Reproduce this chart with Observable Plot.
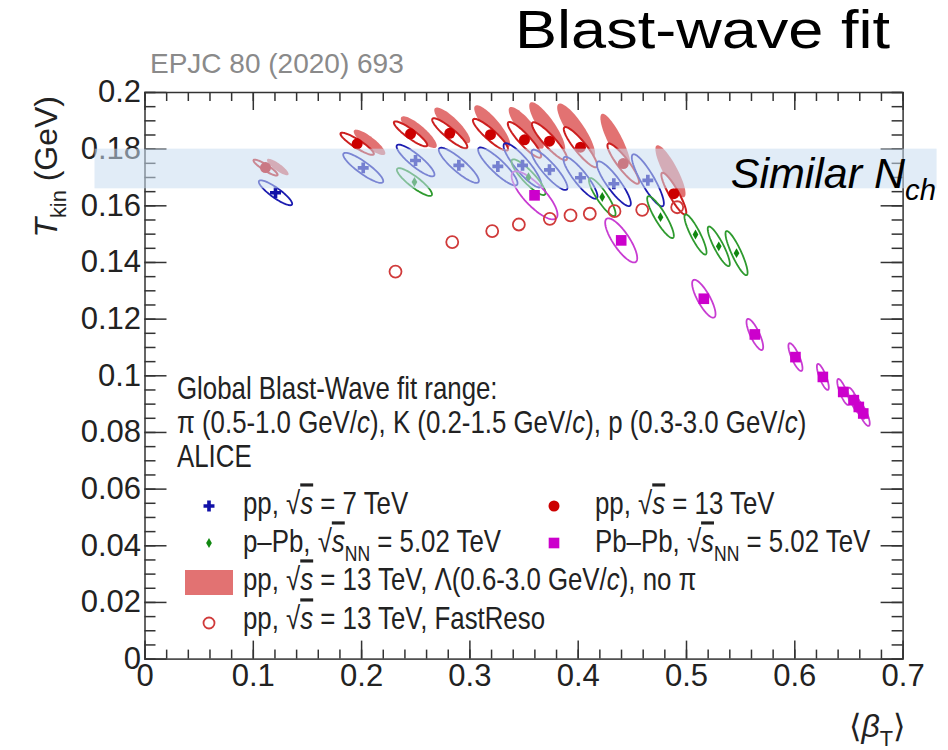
<!DOCTYPE html>
<html><head><meta charset="utf-8">
<script src="https://cdn.jsdelivr.net/npm/d3@7"></script>
<script src="https://cdn.jsdelivr.net/npm/@observablehq/plot@0.6"></script>
<style>body{margin:0;background:#fff;} #chart{width:948px;height:750px;}</style>
</head><body><div id="chart"></div>
<script>
// ---------------- data ----------------
// pp, sqrt(s) = 7 TeV
const pp7Beta = [0.1205, 0.2015, 0.2498, 0.2898, 0.3258, 0.3486, 0.3735, 0.4021, 0.4329, 0.4643];
const pp7T    = [0.1646, 0.1734, 0.1760, 0.1743, 0.1739, 0.1743, 0.1727, 0.1699, 0.1678, 0.1690];
const pp7SB   = [0.0154, 0.0185, 0.0175, 0.0185, 0.0182, 0.0175, 0.0166, 0.0157, 0.0157, 0.0148];
const pp7ST   = [0.0044, 0.0053, 0.0056, 0.0062, 0.0067, 0.0078, 0.0071, 0.0074, 0.0079, 0.0092];
// pp, sqrt(s) = 13 TeV
const pp13Beta = [0.1113, 0.1959, 0.2452, 0.2814, 0.3190, 0.3504, 0.3735, 0.4021, 0.4416, 0.4883];
const pp13T    = [0.1735, 0.1819, 0.1854, 0.1856, 0.1851, 0.1833, 0.1828, 0.1807, 0.1749, 0.1643];
const pp13SB   = [0.0111, 0.0154, 0.0154, 0.0162, 0.0162, 0.0154, 0.0162, 0.0154, 0.0146, 0.0115];
const pp13ST   = [0.0028, 0.0039, 0.0044, 0.0053, 0.0056, 0.0063, 0.0067, 0.0071, 0.0071, 0.0074];
// pp 13 TeV, Lambda (0.6-3.0 GeV/c), no pi
const lamBeta = [0.1226, 0.2073, 0.2528, 0.2837, 0.3206, 0.3520, 0.3714, 0.3981, 0.4344, 0.4852];
const lamT    = [0.1737, 0.1824, 0.1860, 0.1884, 0.1881, 0.1875, 0.1878, 0.1866, 0.1828, 0.1722];
const lamSB   = [0.0100, 0.0146, 0.0166, 0.0166, 0.0166, 0.0162, 0.0166, 0.0175, 0.0139, 0.0139];
const lamST   = [0.0029, 0.0045, 0.0056, 0.0063, 0.0074, 0.0074, 0.0088, 0.0095, 0.0097, 0.0092];
// p-Pb, sqrt(sNN) = 5.02 TeV
const pPbBeta = [0.2488, 0.3541, 0.4222, 0.4760, 0.5083, 0.5298, 0.5462];
const pPbT    = [0.1684, 0.1701, 0.1631, 0.1560, 0.1499, 0.1457, 0.1433];
const pPbSB   = [0.0162, 0.0157, 0.0123, 0.0123, 0.0102, 0.0102, 0.0102];
const pPbST   = [0.0049, 0.0063, 0.0067, 0.0074, 0.0071, 0.0070, 0.0078];
// Pb-Pb, sqrt(sNN) = 5.02 TeV
const PbPbBeta = [0.3597, 0.4397, 0.5160, 0.5631, 0.6006, 0.6259, 0.6447, 0.6545, 0.6591, 0.6632];
const PbPbT    = [0.1637, 0.1478, 0.1272, 0.1146, 0.1066, 0.0996, 0.0943, 0.0914, 0.0890, 0.0867];
const PbPbSB   = [0.0212, 0.0148, 0.0108, 0.0077, 0.0065, 0.0055, 0.0055, 0.0055, 0.0055, 0.0060];
const PbPbST   = [0.0085, 0.0078, 0.0067, 0.0055, 0.0049, 0.0046, 0.0046, 0.0044, 0.0042, 0.0044];
// pp 13 TeV, FastReso
const frBeta = [0.2313, 0.2837, 0.3206, 0.3452, 0.3738, 0.3929, 0.4107, 0.4335, 0.4591, 0.4914];
const frT    = [0.1368, 0.1472, 0.1511, 0.1534, 0.1554, 0.1566, 0.1572, 0.1581, 0.1586, 0.1595];
// "Similar Nch" band
const bandT = [0.166, 0.18];
// axis ticks
const xMajor = [0, 0.1, 0.2, 0.3, 0.4, 0.5, 0.6, 0.7];
const xMinor = d3.range(0, 36).map(i => i * 0.02).filter(v => v <= 0.7001);
const yMajor = [0, 0.02, 0.04, 0.06, 0.08, 0.1, 0.12, 0.14, 0.16, 0.18, 0.2];
const yMinor = d3.range(0, 41).map(i => i * 0.005);

// ---------------- helpers ----------------
function ellipses(beta, T, sb, st, rho, n = 72) {
  const out = [];
  beta.forEach((b, i) => {
    for (let k = 0; k <= n; k++) {
      const t = 2 * Math.PI * k / n;
      out.push({id: i, x: b + sb[i] * Math.cos(t),
        y: T[i] + st[i] * (rho * Math.cos(t) + Math.sqrt(1 - rho * rho) * Math.sin(t))});
    }
  });
  return out;
}
const pts = (beta, T) => beta.map((b, i) => ({x: b, y: T[i]}));
const fmt = d => String(+d.toFixed(3));

const W = 948, H = 750, ML = 144.5, MR = 45.4, MT = 92, MB = 91.4;
const FW = W - ML - MR, FH = H - MT - MB;
const SANS = "'Liberation Sans', Arial, Helvetica, sans-serif";
const AX = "#333";
const cRed = "#cc1f1f", cBlue = "#1c1cb0", cGreen = "#2e9a2e", cMag = "#c83cd2";

const plot = Plot.plot({
  width: W, height: H,
  marginLeft: ML, marginRight: MR, marginTop: MT, marginBottom: MB,
  x: {domain: [0, 0.7], axis: null},
  y: {domain: [0, 0.2], axis: null},
  style: {background: "white", overflow: "visible", fontFamily: SANS},
  marks: [
    Plot.line(ellipses(lamBeta, lamT, lamSB, lamST, -0.85), {x: "x", y: "y", z: "id", fill: "#e27272", stroke: "none", curve: "linear-closed"}),
    Plot.line(ellipses(pp13Beta, pp13T, pp13SB, pp13ST, -0.9), {x: "x", y: "y", z: "id", fill: "white", stroke: cRed, strokeWidth: 2, curve: "linear-closed"}),
    Plot.line(ellipses(pp7Beta, pp7T, pp7SB, pp7ST, -0.88), {x: "x", y: "y", z: "id", stroke: cBlue, strokeWidth: 1.8, curve: "linear-closed"}),
    Plot.line(ellipses(pPbBeta, pPbT, pPbSB, pPbST, -0.88), {x: "x", y: "y", z: "id", stroke: cGreen, strokeWidth: 1.8, curve: "linear-closed"}),
    Plot.line(ellipses(PbPbBeta, PbPbT, PbPbSB, PbPbST, -0.8), {x: "x", y: "y", z: "id", stroke: cMag, strokeWidth: 1.8, curve: "linear-closed"}),
    Plot.dot(pts(frBeta, frT), {x: "x", y: "y", r: 6, stroke: "#d03a3a", strokeWidth: 1.8, fill: "none"}),
    Plot.dot(pts(pp13Beta, pp13T), {x: "x", y: "y", r: 5.5, fill: "#cc0000", symbol: "circle"}),
    Plot.dot(pts(pp7Beta, pp7T), {x: "x", y: "y", r: 4.6, fill: "#1010a8", symbol: "cross"}),
    Plot.dot(pts(pPbBeta, pPbT), {x: "x", y: "y", r: 3, fill: "#118811", symbol: "diamond"}),
    Plot.dot(pts(PbPbBeta, PbPbT), {x: "x", y: "y", r: 6, fill: "#cc00cc", symbol: "square"}),
    // frame and ticks (inward, on all sides)
    Plot.frame({stroke: AX, strokeWidth: 1.5}),
    Plot.ruleX(xMajor, {x: d => d, insetTop: FH - 18, stroke: AX, strokeWidth: 1.5}),
    Plot.ruleX(xMinor, {x: d => d, insetTop: FH - 9, stroke: AX, strokeWidth: 1.5}),
    Plot.ruleX(xMajor, {x: d => d, insetBottom: FH - 18, stroke: AX, strokeWidth: 1.5}),
    Plot.ruleX(xMinor, {x: d => d, insetBottom: FH - 9, stroke: AX, strokeWidth: 1.5}),
    Plot.ruleY(yMajor, {y: d => d, insetRight: FW - 22, stroke: AX, strokeWidth: 1.5}),
    Plot.ruleY(yMinor, {y: d => d, insetRight: FW - 11, stroke: AX, strokeWidth: 1.5}),
    Plot.ruleY(yMajor, {y: d => d, insetLeft: FW - 22, stroke: AX, strokeWidth: 1.5}),
    Plot.ruleY(yMinor, {y: d => d, insetLeft: FW - 11, stroke: AX, strokeWidth: 1.5}),
    // tick labels
    Plot.text(xMajor, {x: d => d, text: fmt, frameAnchor: "bottom", dy: 27, fontSize: 31, fill: "#222"}),
    Plot.text(yMajor, {y: d => d, text: fmt, frameAnchor: "left", textAnchor: "end", dx: -4, fontSize: 31, fill: "#222"}),
    // "Similar Nch" band, drawn on top
    Plot.rect([bandT], {y1: d => d[0], y2: d => d[1], insetLeft: -50, insetRight: -34, fill: "#c9dcf0", fillOpacity: 0.55})
  ]
});
document.getElementById("chart").appendChild(plot);

// ---------------- annotations (rich text) ----------------
const svg = d3.select(plot);
const g = svg.append("g").attr("text-anchor", "start");
function rich(x, y, parts, size, o = {}) {
  const sx = o.sx || 1;
  const t = g.append("text").attr("font-size", size)
    .attr("font-family", o.family || SANS).attr("fill", o.fill || "#222")
    .attr("text-anchor", o.anchor || "start")
    .attr("transform", o.transform || `translate(${x},${y}) scale(${sx},1)`);
  if (o.length) t.attr("textLength", o.length).attr("lengthAdjust", "spacingAndGlyphs");
  let shift = 0;
  for (const p of parts) {
    const [s, st] = typeof p === "string" ? [p, ""] : p;
    const ts = t.append("tspan").text(s);
    if (st.includes("i")) ts.attr("font-style", "italic");
    if (st.includes("o")) ts.attr("text-decoration", "overline");
    const want = st.includes("b") ? size * 0.28 : 0;
    if (want !== shift) { ts.attr("dy", want - shift); shift = want; }
    if (st.includes("b")) ts.attr("font-size", size * 0.68);
  }
  return t;
}
// title & reference
rich(515, 48, ["Blast-wave fit"], 53, {fill: "#000", length: 375});
rich(150, 73, ["EPJC 80 (2020) 693"], 28, {fill: "#8a8a8a"});
// band label
rich(936, 188, [["Similar N", "i"], ["ch", "ib"]], 43, {fill: "#000", anchor: "end"});
// axis titles
rich(0, 0, [["T", "i"], ["kin", "b"], " (GeV)"], 32, {anchor: "end", transform: "translate(57,96) rotate(-90)"});
rich(905, 737, ["\u27E8", ["\u03B2", "i"], ["T", "b"], "\u27E9"], 32, {anchor: "end"});
// legend
const LS = 31.5, LX = 0.82;
rich(177, 399, ["Global Blast-Wave fit range:"], LS, {sx: LX});
rich(177, 433, ["\u03C0 (0.5-1.0 GeV/", ["c", "i"], "), K (0.2-1.5 GeV/", ["c", "i"], "), p (0.3-3.0 GeV/", ["c", "i"], ")"], LS, {sx: LX});
rich(177, 467, ["ALICE"], LS, {sx: LX});
rich(243, 514, ["pp, \u221A", ["s", "io"], " = 7 TeV"], LS, {sx: LX});
rich(595, 514, ["pp, \u221A", ["s", "io"], " = 13 TeV"], LS, {sx: LX});
rich(243, 552, ["p\u2013Pb, \u221A", ["s", "io"], ["NN", "b"], " = 5.02 TeV"], LS, {sx: LX});
rich(595, 552, ["Pb\u2013Pb, \u221A", ["s", "io"], ["NN", "b"], " = 5.02 TeV"], LS, {sx: LX});
rich(243, 590, ["pp, \u221A", ["s", "io"], " = 13 TeV, \u039B(0.6-3.0 GeV/", ["c", "i"], "), no \u03C0"], LS, {sx: LX});
rich(243, 629, ["pp, \u221A", ["s", "io"], " = 13 TeV, FastReso"], LS, {sx: LX});
// legend symbols
const sym = (type, r) => d3.symbol(type, r * r * Math.PI)();
g.append("path").attr("d", sym(d3.symbolCross, 4.6)).attr("transform", "translate(209,506)").attr("fill", "#1010a8");
g.append("path").attr("d", sym(d3.symbolCircle, 5.5)).attr("transform", "translate(554,506)").attr("fill", "#cc0000");
g.append("path").attr("d", sym(d3.symbolDiamond, 3)).attr("transform", "translate(209,543)").attr("fill", "#118811");
g.append("path").attr("d", sym(d3.symbolSquare, 6)).attr("transform", "translate(554,543)").attr("fill", "#cc00cc");
g.append("rect").attr("x", 185).attr("y", 570).attr("width", 48).attr("height", 25).attr("fill", "#e27272");
g.append("circle").attr("cx", 209).attr("cy", 623).attr("r", 5.5).attr("fill", "none").attr("stroke", "#d03a3a").attr("stroke-width", 1.8);
</script>
</body></html>
